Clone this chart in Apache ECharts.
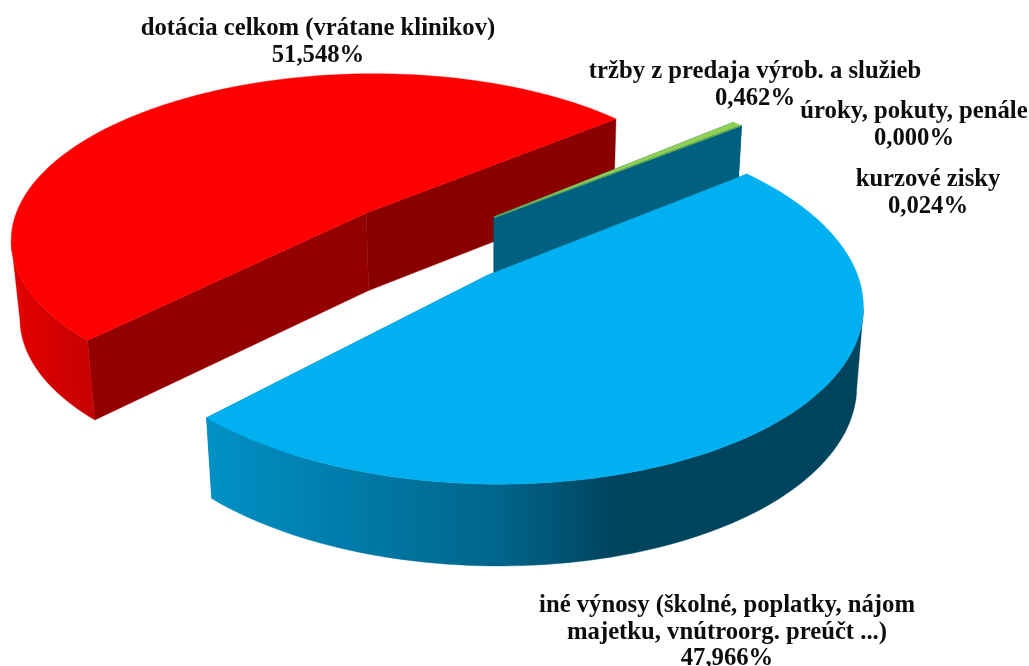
<!DOCTYPE html>
<html>
<head>
<meta charset="utf-8">
<style>
html, body { margin: 0; padding: 0; background: #fff; }
#main { width: 1029px; height: 666px; }
</style>
<script src="https://cdn.jsdelivr.net/npm/echarts@6/dist/echarts.min.js"></script>
</head>
<body>
<div id="main"></div>
<script>
// slices, clockwise from the lower left edge of the red one
var sliceNames = [
    'dotácia celkom (vrátane klinikov)',
    'tržby z predaja výrob. a služieb',
    'úroky, pokuty, penále',
    'kurzové zisky',
    'iné výnosy (školné, poplatky, nájom\nmajetku, vnútroorg. preúčt ...)'
];
var sliceValues = [51.548, 0.462, 0.000, 0.024, 47.966];
var topColors = ['#ff0000', '#92d050', '#92d050', '#92d050', '#00b0f0'];
var startWallColors = ['#930000', '#00607f', '#00607f', '#00607f', '#006c90'];
var endWallColors = ['#8a0000', '#00607f', '#00607f', '#00607f', '#006c90'];

// label centres, x / y of the first line
var labelX = [318, 755, 914, 928, 727];
var labelY = [29, 72, 112, 180, 606];

// fake 3d projection of the pie plane
var startAngle = 225.8;
var explode = 0.25;
var cx = 426, cy = 243, scaleX = 359.5, scaleY = 168, persp = 0.147;
var depth = 78, vanishX = 494, converge = 0.018;
var lineHeight = 26.5;

var total = sliceValues.reduce(function (a, b) { return a + b; }, 0);

function project(x, y, bottom) {
    var d = 1 - persp * y;
    var sx = cx + scaleX * x / d;
    var sy = cy + scaleY * y / d;
    if (bottom) {
        sx += (vanishX - sx) * converge;
        sy += depth * Math.pow(d, -0.25);
    }
    return [sx, sy];
}

function rimPoint(ox, oy, deg, bottom) {
    var a = deg * Math.PI / 180;
    return project(ox + Math.cos(a), oy - Math.sin(a), bottom);
}

function sideFill(i) {
    if (i === 0) {
        return new echarts.graphic.LinearGradient(10, 0, 100, 0, [
            { offset: 0, color: '#e40000' },
            { offset: 1, color: '#c40000' }
        ], true);
    }
    if (i === 4) {
        return new echarts.graphic.LinearGradient(206, 0, 862, 0, [
            { offset: 0, color: '#0091c6' },
            { offset: 0.45, color: '#00648a' },
            { offset: 0.62, color: '#00445e' },
            { offset: 1, color: '#00445e' }
        ], true);
    }
    return endWallColors[i];
}

function poly(points, fill) {
    return {
        type: 'polygon',
        shape: { points: points },
        style: { fill: fill, stroke: fill, lineWidth: 0.4 }
    };
}

function renderSlice(params, api) {
    var i = params.dataIndex;
    var before = 0;
    for (var j = 0; j < i; j++) before += sliceValues[j];
    var value = api.value(1);
    var a0 = startAngle - before / total * 360;
    var a1 = a0 - value / total * 360;
    var mid = (a0 + a1) / 2 * Math.PI / 180;
    var ox = Math.cos(mid) * explode;
    var oy = -Math.sin(mid) * explode;

    var topRim = [], botRim = [], frontTop = [], frontBot = [];
    var steps = Math.max(2, Math.ceil((a0 - a1) / 1.5));
    for (var s = 0; s <= steps; s++) {
        var deg = a0 + (a1 - a0) * s / steps;
        var t = rimPoint(ox, oy, deg, false);
        var b = rimPoint(ox, oy, deg, true);
        topRim.push(t);
        botRim.push(b);
        // going clockwise the near part of the rim runs to the left
        if (rimPoint(ox, oy, deg - 0.2, false)[0] < t[0] || rimPoint(ox, oy, deg + 0.2, false)[0] > t[0]) {
            frontTop.push(t);
            frontBot.push(b);
        }
    }
    var apexTop = project(ox, oy, false);
    var apexBot = project(ox, oy, true);

    var children = [
        poly([apexTop, topRim[0], botRim[0], apexBot], startWallColors[i]),
        poly([apexTop, topRim[steps], botRim[steps], apexBot], endWallColors[i])
    ];
    if (frontTop.length > 1) {
        children.push(poly(frontTop.concat(frontBot.slice().reverse()), sideFill(i)));
    }
    children.push(poly([apexTop].concat(topRim), topColors[i]));
    children.push({
        type: 'text',
        style: {
            x: labelX[i],
            y: labelY[i] - lineHeight / 2,
            text: sliceNames[i] + '\n' + value.toFixed(3).replace('.', ',') + '%',
            fill: '#0d0d0d',
            font: 'bold 24.7px "Liberation Serif", serif',
            lineHeight: lineHeight,
            align: 'center',
            verticalAlign: 'top'
        }
    });
    return { type: 'group', children: children };
}

var chartDom = document.getElementById('main');
var myChart = echarts.init(chartDom);
var option = {
    animation: false,
    series: [
        {
            type: 'custom',
            coordinateSystem: 'none',
            renderItem: renderSlice,
            data: sliceNames.map(function (name, i) {
                return [name, sliceValues[i]];
            })
        }
    ]
};
myChart.setOption(option);
</script>
</body>
</html>
